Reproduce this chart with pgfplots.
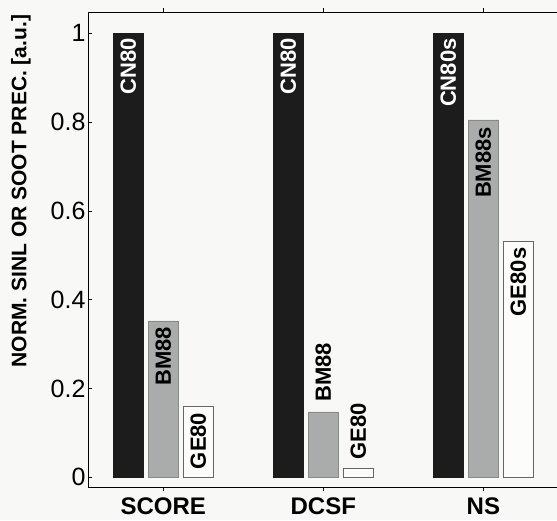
\documentclass[border=0pt]{standalone}
\usepackage{fontspec}
\setmainfont{Liberation Sans}
\usepackage{pgfplots}
\pgfplotsset{compat=1.18}
\usetikzlibrary{backgrounds}
\definecolor{bg}{RGB}{248,248,246}
\definecolor{barblack}{RGB}{28,28,28}
\definecolor{bargray}{RGB}{170,171,171}
\definecolor{barwhite}{RGB}{252,252,250}
\begin{document}
\begin{tikzpicture}
\begin{axis}[
  scale only axis,
  width=469pt, height=475pt,
  xmin=-0.47, xmax=2.46,
  ymin=-0.022, ymax=1.048,
  axis x line=box, axis y line=left,
  axis line style={-, black, line width=0.8pt},
  tick align=inside,
  major tick length=4pt,
  tick style={black, line width=0.6pt},
  xtick={0,1,2},
  xticklabels={SCORE,DCSF,NS},
  ytick={0,0.2,0.4,0.6,0.8,1},
  /pgf/number format/assume math mode=true,
  xticklabel style={font=\fontsize{24}{24}\selectfont\bfseries, yshift=-3pt},
  yticklabel style={font=\fontsize{25}{25}\selectfont, xshift=1pt},
  ylabel={NORM. SINL OR SOOT PREC. [a.u.]},
  ylabel style={font=\fontsize{21}{21}\selectfont\bfseries, at={(axis description cs:-0.143,0.623)}, anchor=center},
  ybar,
  bar width=0.1875,
  clip=false,
]
\addplot[fill=barblack, draw=barblack, bar shift=-0.21875] coordinates {(0,1) (1,1) (2,1)};
\addplot[fill=bargray, draw=bargray!80!black, line width=0.3pt, bar shift=0] coordinates {(0,0.352) (1,0.147) (2,0.805)};
\addplot[fill=barwhite, draw=black!60, line width=0.4pt, bar shift=0.21875] coordinates {(0,0.159) (1,0.020) (2,0.531)};
% labels
\tikzset{lbl/.style={rotate=90, inner sep=0pt, font=\fontsize{22}{22}\selectfont\bfseries}}
\node[lbl, anchor=east, text=white, xshift=-5pt] at (axis cs:-0.21875,1) {CN80};
\node[lbl, anchor=east, text=white, xshift=-5pt] at (axis cs:0.78125,1) {CN80};
\node[lbl, anchor=east, text=white, xshift=-5pt] at (axis cs:1.78125,1) {CN80s};
\node[lbl, anchor=east, xshift=-6pt] at (axis cs:0,0.352) {BM88};
\node[lbl, anchor=east, xshift=-6pt] at (axis cs:0.21875,0.159) {GE80};
\node[lbl, anchor=west, xshift=10pt] at (axis cs:1,0.147) {BM88};
\node[lbl, anchor=west, xshift=9pt] at (axis cs:1.21875,0.020) {GE80};
\node[lbl, anchor=east, xshift=-7pt] at (axis cs:2,0.805) {BM88s};
\node[lbl, anchor=east, xshift=-6pt] at (axis cs:2.21875,0.531) {GE80s};
\coordinate (bbA) at (axis description cs:0,0);
\coordinate (bbB) at (axis description cs:1,1);
\end{axis}
\pgfresetboundingbox
\begin{scope}[on background layer]
\fill[bg] ([xshift=-88pt,yshift=-33pt]bbA) rectangle ([yshift=12pt]bbB);
\end{scope}
\useasboundingbox ([xshift=-88pt,yshift=-33pt]bbA) rectangle ([yshift=12pt]bbB);
\end{tikzpicture}
\end{document}
